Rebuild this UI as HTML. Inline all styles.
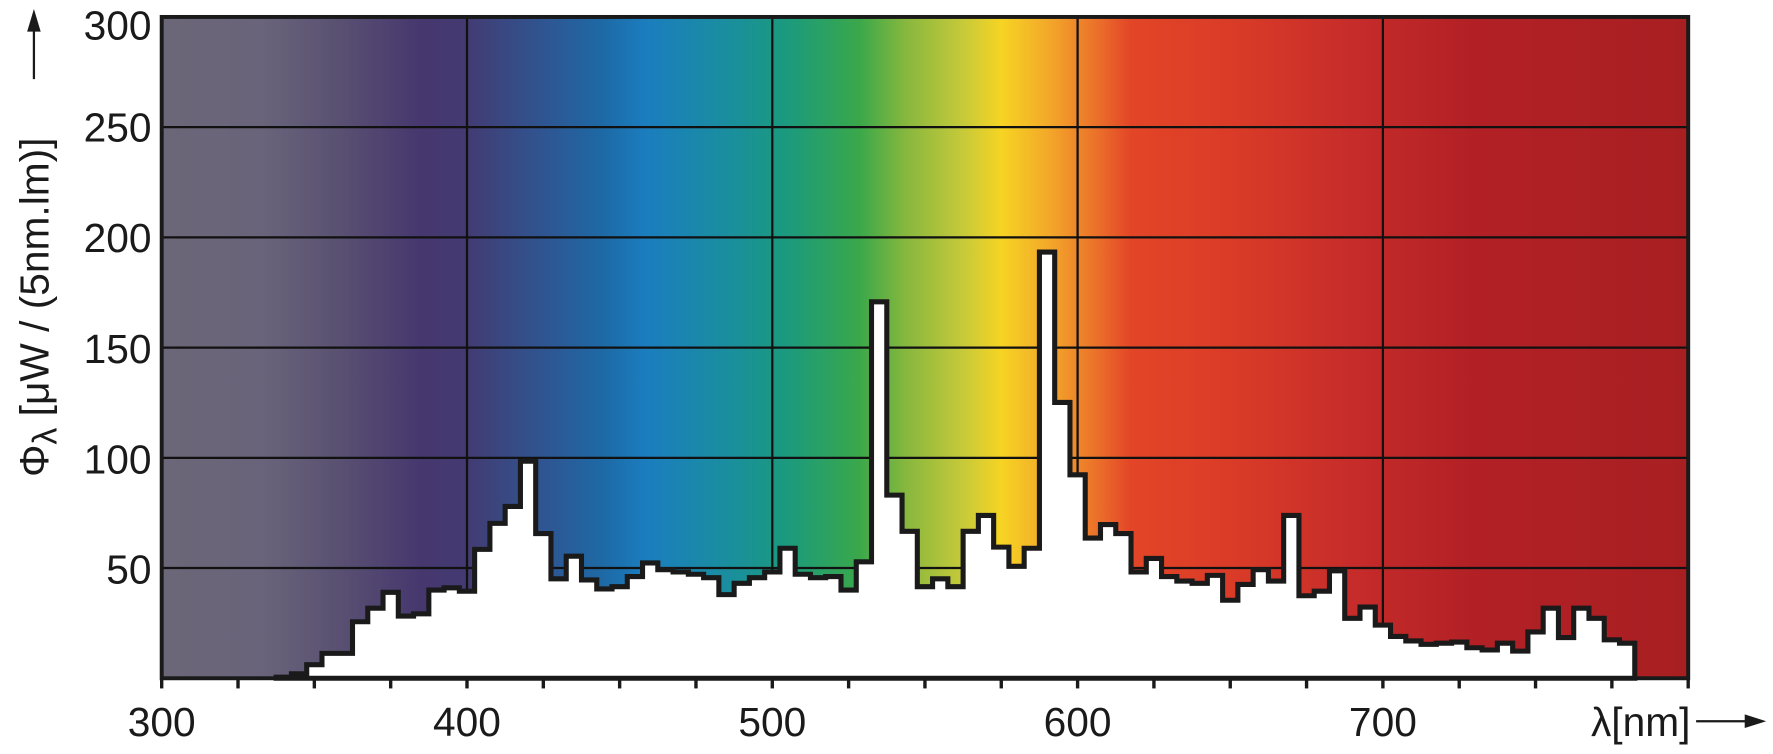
<!DOCTYPE html>
<html><head><meta charset="utf-8"><style>
html,body{margin:0;padding:0;background:#fff;}
svg{display:block;}
text{font-family:"Liberation Sans",Arial,sans-serif;fill:#1a1a1a;}
</style></head><body>
<svg id="s" width="1773" height="754" viewBox="0 0 1568 667" preserveAspectRatio="none" xmlns="http://www.w3.org/2000/svg">
<defs>
<linearGradient id="g" x1="143" x2="1493" y1="0" y2="0" gradientUnits="userSpaceOnUse">
<stop offset="0" stop-color="#6b6678"/>
<stop offset="0.065" stop-color="#69647a"/>
<stop offset="0.115" stop-color="#5a5172"/>
<stop offset="0.17" stop-color="#46376e"/>
<stop offset="0.2" stop-color="#433b72"/>
<stop offset="0.25" stop-color="#2f5591"/>
<stop offset="0.29" stop-color="#1d6aa6"/>
<stop offset="0.317" stop-color="#1b7dbf"/>
<stop offset="0.37" stop-color="#1a8e9f"/>
<stop offset="0.41" stop-color="#1b9a7d"/>
<stop offset="0.457" stop-color="#3aa84a"/>
<stop offset="0.487" stop-color="#86b73e"/>
<stop offset="0.524" stop-color="#c5c93a"/>
<stop offset="0.55" stop-color="#f6d423"/>
<stop offset="0.583" stop-color="#f3a52a"/>
<stop offset="0.615" stop-color="#ea6c2a"/>
<stop offset="0.635" stop-color="#e34527"/>
<stop offset="0.71" stop-color="#d83a28"/>
<stop offset="0.78" stop-color="#c62c2a"/>
<stop offset="0.86" stop-color="#b22025"/>
<stop offset="1" stop-color="#a81f22"/>
</linearGradient>
</defs>
<rect x="143" y="15" width="1350" height="585" fill="url(#g)"/>
<g id="grid" stroke="#111" stroke-width="2"></g>
<path id="p" fill="#fff" stroke="#1a1a1a" stroke-width="4.5" stroke-linejoin="miter"/>
<rect x="143" y="15" width="1350" height="585" fill="none" stroke="#1a1a1a" stroke-width="3.5"/>
<g id="ticks" stroke="#1a1a1a" stroke-width="3"></g>
<g font-size="36" text-anchor="end">
<text x="134" y="35">300</text>
<text x="134" y="125">250</text>
<text x="134" y="223">200</text>
<text x="134" y="321">150</text>
<text x="134" y="419">100</text>
<text x="134" y="516">50</text>
</g>
<g font-size="36" text-anchor="middle">
<text x="143" y="651">300</text>
<text x="413" y="651">400</text>
<text x="683" y="651">500</text>
<text x="953" y="651">600</text>
<text x="1223" y="651">700</text>
</g>
<text x="1495" y="651" font-size="36" text-anchor="end">λ[nm]</text>
<line x1="1500" y1="638" x2="1545" y2="638" stroke="#1a1a1a" stroke-width="2"/>
<polygon points="1562,638 1543,632 1543,644" fill="#1a1a1a"/>
<text transform="translate(43,422) rotate(-90)" font-size="36">Φ<tspan font-size="30" dy="7">λ</tspan><tspan dy="-7"> [μW / (5nm.lm)]</tspan></text>
<line x1="30" y1="70" x2="30" y2="26" stroke="#1a1a1a" stroke-width="2"/>
<polygon points="30,8 24,28 36,28" fill="#1a1a1a"/>
</svg>
<script>
var v={340:599,345:596,350:588,355:578,360:578,365:550,370:538,375:524,380:545,385:543,390:522,395:520,400:523,405:486,410:463,415:448,420:408,425:472,430:512,435:492,440:513,445:521,450:519,455:510,460:498,465:504,470:506,475:508,480:511,485:526,490:516,495:511,500:506,505:485,510:508,515:511,520:510,525:522,530:497,535:267,540:438,545:470,550:519,555:512,560:519,565:470,570:456,575:484,580:501,585:485,590:223,595:356,600:420,605:476,610:464,615:472,620:506,625:494,630:510,635:514,640:516,645:509,650:531,655:517,660:504,665:514,670:456,675:527,680:523,685:505,690:547,695:537,700:553,705:563,710:567,715:570,720:569,725:568,730:573,735:575,740:569,745:576,750:559,755:538,760:564,765:538,770:547,775:566,780:569};
function X(n){return 143+2.7*(n-300);}
var d="M"+X(337.5)+",600";
for(var c=340;c<=780;c+=5){d+=" L"+X(c-2.5)+","+v[c]+" L"+X(c+2.5)+","+v[c];}
d+=" L"+X(782.5)+",600 Z";
document.getElementById("p").setAttribute("d",d);
var ns="http://www.w3.org/2000/svg",g=document.getElementById("grid"),t=document.getElementById("ticks");
function L(p,x1,y1,x2,y2){var l=document.createElementNS(ns,"line");l.setAttribute("x1",x1);l.setAttribute("y1",y1);l.setAttribute("x2",x2);l.setAttribute("y2",y2);p.appendChild(l);}
for(var i=1;i<=4;i++)L(g,143+270*i,15,143+270*i,600);
for(var j=1;j<=5;j++){var y=600-97.5*j;L(g,143,y,1493,y);}
for(var k=0;k<=20;k++){var x=143+67.5*k;L(t,x,600,x,609);}
</script>
</body></html>
